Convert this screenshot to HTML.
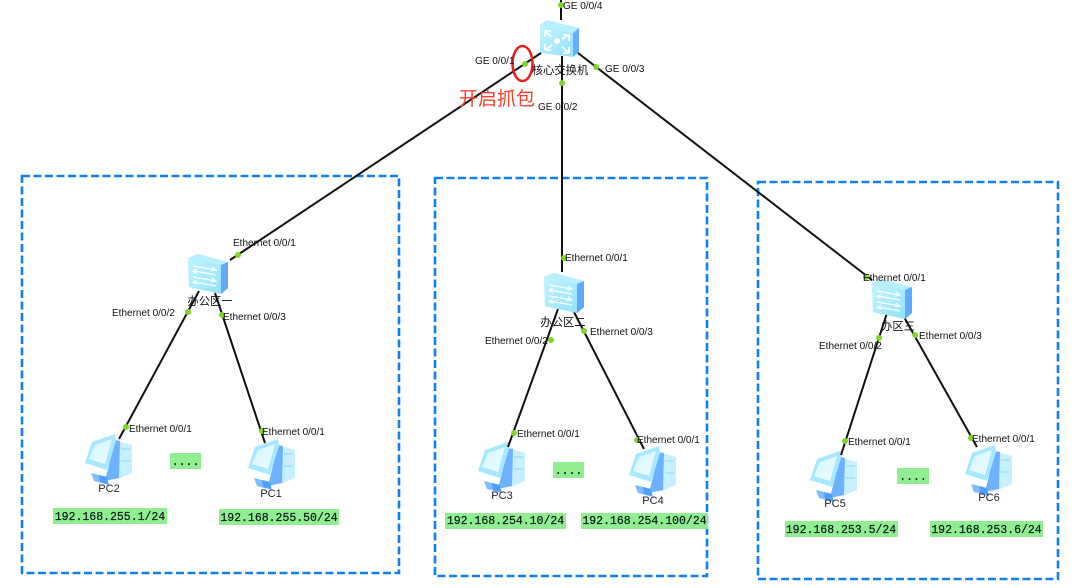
<!DOCTYPE html>
<html><head><meta charset="utf-8">
<style>
html,body{margin:0;padding:0;background:#fff}
svg{display:block;filter:blur(.35px)}
text{font-family:"Liberation Sans","Noto Sans CJK SC",sans-serif;font-size:10px;fill:#111}
.c{font-size:11.3px;text-anchor:middle}
.n{font-size:11px;text-anchor:middle;fill:#223}
.ip{font-family:"Liberation Mono",monospace;font-size:11.5px;fill:#0a1a1a;text-anchor:middle;stroke:#0a1a1a;stroke-width:.2}
.g{fill:#90ee90}
.b{fill:none;stroke:#1080f0;stroke-width:2.6;stroke-dasharray:8 3.500}
.l{stroke:#111;stroke-width:2;fill:none}
.d{fill:#80d42a}
</style></head><body>
<svg width="1080" height="588" viewBox="0 0 1080 588" xmlns="http://www.w3.org/2000/svg">
<defs>
<linearGradient id="f" x1="0" y1="0" x2="1" y2="1"><stop offset="0" stop-color="#c0f4ff"/><stop offset="1" stop-color="#93e2fc"/></linearGradient>
<linearGradient id="sc" x1="0" y1="0" x2="1" y2="1"><stop offset="0" stop-color="#d4f5ff"/><stop offset="1" stop-color="#eefcff"/></linearGradient>
<symbol id="sw" width="40" height="40" viewBox="0 0 40 40" overflow="visible">
<polygon points="0,4 10,0 40,8 33,11" fill="#b8efff"/>
<polygon points="0,4 33,11 33,40 1,33" fill="url(#f)"/>
<polygon points="33,11 40,8 40,34 33,40" fill="#5fa9ff"/>
<path d="M5 12 L28 16 M24 13l4 3-5 1 M28 21 L6 17 M9 15l-4 2.500 4 2 M5 23 L28 27 M24 24l4 3-5 1 M28 32 L6 28 M9 26l-4 2.500 4 2" stroke="#fff" stroke-width="1.200" fill="none"/>
</symbol>
<symbol id="core" width="40" height="37" viewBox="0 0 40 37" overflow="visible">
<polygon points="0,5 7,0 39,8 33,13" fill="#b8efff"/>
<polygon points="0,5 33,13 33,37 0,33" fill="url(#f)"/>
<polygon points="33,13 39,8 39,32 33,37" fill="#62aeff"/>
<circle cx="17" cy="21" r="3" fill="#fff"/>
<path d="M5 11l7 6M5 11v6M5 11h6M29 15l-7 4M29 15h-6M29 15v6M5 30l7-5M5 30v-6M5 30h6M29 33l-7-6M29 33h-6M29 33v-6" stroke="#fff" stroke-width="1.800" fill="none"/>
</symbol>
<symbol id="pc" width="48" height="52" viewBox="0 0 48 52" overflow="visible">
<polygon points="33,7 47,11 47,39 33,45" fill="#c6f0ff"/>
<polygon points="30,6 35,7 34,44 20,47" fill="#6eb2ff"/>
<polygon points="6,39 22,43 24,51 9,47" fill="#7dbcff"/>
<polygon points="14,41 22,43 23,50 15,48" fill="#4f9fff"/>
<polygon points="7,8 30,0 31,7 22,36 0,29" fill="#a6e8ff"/>
<polygon points="10,11 27,5 20,30 4,25" fill="url(#sc)"/>
<path d="M36 15h9M36 27h9" stroke="#8ad6f5" stroke-width="1"/>
</symbol>
</defs>

<rect x="22" y="176" width="377" height="397" class="b"/>
<rect x="435" y="178" width="272" height="398" class="b"/>
<rect x="758" y="182" width="300" height="397" class="b"/>

<use href="#core" x="540" y="20"/>
<use href="#sw" x="188" y="254"/>
<use href="#sw" x="544" y="273"/>
<use href="#sw" x="872" y="279"/>
<use href="#pc" x="85" y="434"/>
<use href="#pc" x="248" y="439"/>
<use href="#pc" x="478" y="442"/>
<use href="#pc" x="629" y="446"/>
<use href="#pc" x="810" y="451"/>
<use href="#pc" x="965" y="445"/>

<path class="l" d="M561 0V20M562 56V272M541 53 L230 260"/>
<path class="l" d="M578 53 L872 280"/>
<path class="l" d="M199 291 L119 439M215 293 L265 443"/>
<path class="l" d="M558 309 L508 447M574 312 L644 449"/>
<path class="l" d="M887 313 L841 455M904 317 L977 447"/>

<use href="#sw" x="188" y="254"/>
<use href="#sw" x="544" y="273"/>
<use href="#sw" x="872" y="279"/>

<g class="d">
<circle cx="561" cy="5" r="3"/><circle cx="525" cy="64" r="3"/><circle cx="562" cy="83" r="3"/><circle cx="596" cy="67" r="3"/>
<circle cx="238" cy="255" r="3"/><circle cx="188" cy="312" r="3"/><circle cx="222" cy="315" r="3"/><circle cx="126" cy="427" r="3"/><circle cx="262" cy="431" r="3"/>
<circle cx="564" cy="258" r="3"/><circle cx="551" cy="340" r="3"/><circle cx="584" cy="331" r="3"/><circle cx="514" cy="433" r="3"/><circle cx="637" cy="440" r="3"/>
<circle cx="866" cy="277" r="3"/><circle cx="879" cy="338" r="3"/><circle cx="915" cy="335" r="3"/><circle cx="845" cy="441" r="3"/><circle cx="971" cy="438" r="3"/>
</g>

<ellipse cx="522.500" cy="63.500" rx="10" ry="17.500" fill="none" stroke="#e8201c" stroke-width="2.500"/>
<text x="459" y="105" style="font-size:19px;fill:#f5402c">开启抓包</text>

<text x="563" y="9">GE 0/0/4</text>
<text x="475" y="64">GE 0/0/1</text>
<text x="605" y="72">GE 0/0/3</text>
<text x="538" y="110">GE 0/0/2</text>
<text class="c" x="560" y="74">核心交换机</text>

<text x="233" y="246">Ethernet 0/0/1</text>
<text x="112" y="316">Ethernet 0/0/2</text>
<text x="223" y="320">Ethernet 0/0/3</text>
<text x="129" y="432">Ethernet 0/0/1</text>
<text x="262" y="435">Ethernet 0/0/1</text>
<text class="c" x="210" y="305">办公区一</text>

<text x="565" y="261">Ethernet 0/0/1</text>
<text x="485" y="344">Ethernet 0/0/2</text>
<text x="590" y="335">Ethernet 0/0/3</text>
<text x="517" y="437">Ethernet 0/0/1</text>
<text x="637" y="443">Ethernet 0/0/1</text>
<text class="c" x="563" y="326">办公区二</text>

<text x="863" y="281">Ethernet 0/0/1</text>
<text x="819" y="349">Ethernet 0/0/2</text>
<text x="919" y="339">Ethernet 0/0/3</text>
<text x="848" y="445">Ethernet 0/0/1</text>
<text x="972" y="442">Ethernet 0/0/1</text>
<text class="c" x="898" y="330">办区三</text>

<text class="n" x="109" y="492">PC2</text>
<text class="n" x="271" y="497">PC1</text>
<text class="n" x="502" y="499">PC3</text>
<text class="n" x="653" y="504">PC4</text>
<text class="n" x="835" y="507">PC5</text>
<text class="n" x="989" y="501">PC6</text>

<rect class="g" x="170" y="453" width="31" height="16"/><text class="ip" x="185.500" y="465">....</text>
<rect class="g" x="553" y="462" width="31" height="16"/><text class="ip" x="568.500" y="474">....</text>
<rect class="g" x="897" y="468" width="32" height="16"/><text class="ip" x="913" y="480">....</text>

<rect class="g" x="53" y="508" width="114" height="16"/><text class="ip" x="110" y="520">192.168.255.1/24</text>
<rect class="g" x="219" y="509" width="120" height="16"/><text class="ip" x="279" y="521">192.168.255.50/24</text>
<rect class="g" x="445" y="513" width="121" height="16"/><text class="ip" x="505.500" y="524">192.168.254.10/24</text>
<rect class="g" x="581" y="513" width="127" height="16"/><text class="ip" x="644.500" y="524">192.168.254.100/24</text>
<rect class="g" x="785" y="521" width="113" height="16"/><text class="ip" x="841" y="533">192.168.253.5/24</text>
<rect class="g" x="930" y="521" width="113" height="16"/><text class="ip" x="986.500" y="533">192.168.253.6/24</text>
</svg>
</body></html>
